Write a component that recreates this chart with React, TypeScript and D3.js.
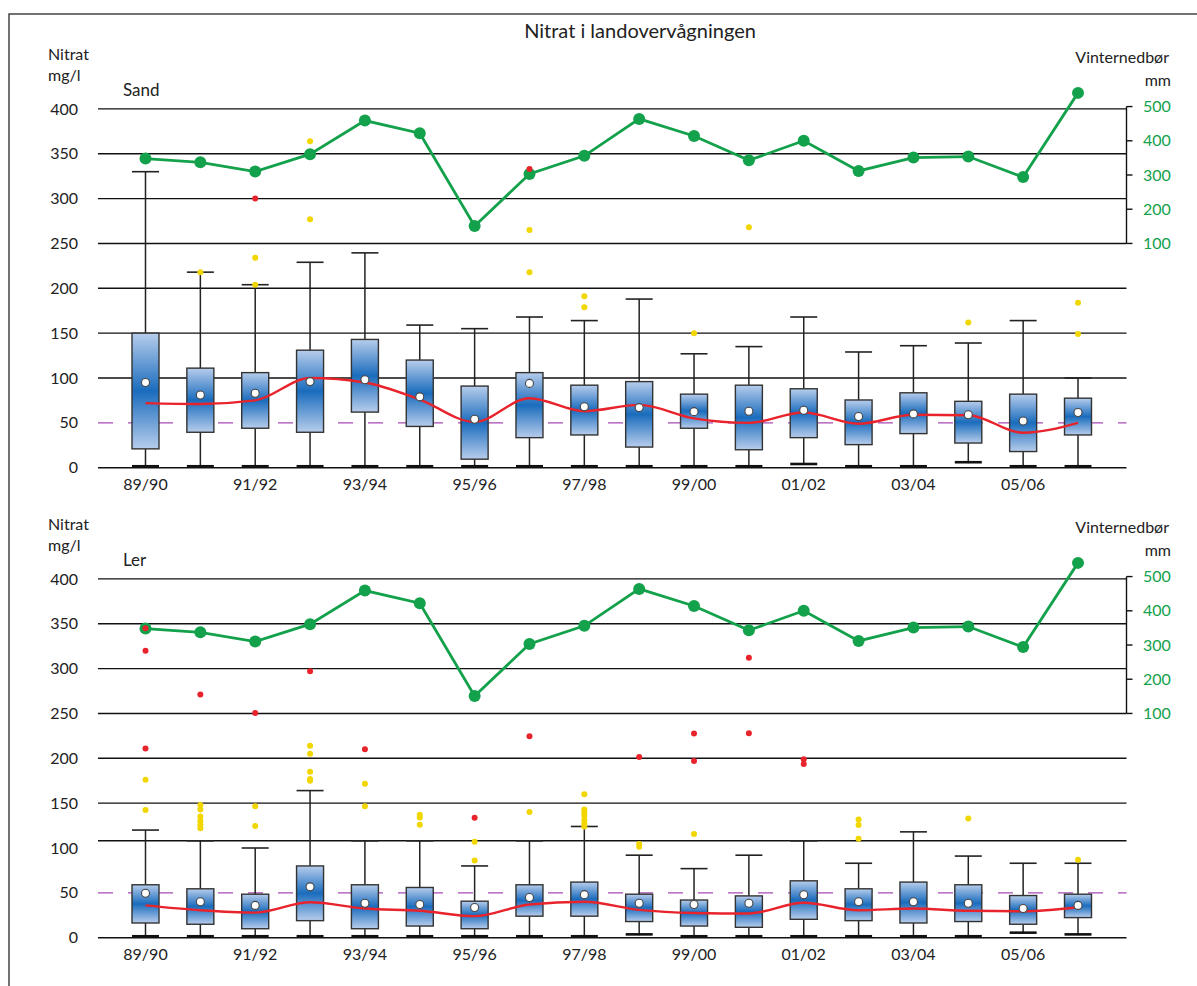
import React from "react";
import * as d3 from "d3";

// ---------- DATA ----------
const seasons = [
  "89/90", "90/91", "91/92", "92/93", "93/94", "94/95", "95/96", "96/97", "97/98",
  "98/99", "99/00", "00/01", "01/02", "02/03", "03/04", "04/05", "05/06", "06/07",
];
const labeledSeasons = ["89/90", "91/92", "93/94", "95/96", "97/98", "99/00", "01/02", "03/04", "05/06"];
const nitratTicks = [0, 50, 100, 150, 200, 250, 300, 350, 400];
const mmTicks = [100, 200, 300, 400, 500];
const limitValue = 50;

// winter precipitation (mm)
const precipMm = [348, 337, 310, 361, 459, 422, 151, 303, 356, 464, 414, 343, 400, 312, 351, 354, 294, 540];

// Sand
const sandQ3 = [150, 111, 106, 131, 143, 120, 91, 106, 92, 96, 82, 92, 88, 75.5, 83.5, 74, 82, 77.5];
const sandQ1 = [21, 39.5, 44, 39.5, 62, 46, 9.5, 33.5, 36.5, 23, 44, 20, 33.5, 25.7, 38, 27.5, 18, 36.5];
const sandHigh = [330, 218, 204, 229, 239.5, 159, 155, 168, 164, 188, 127, 135, 168, 129, 136, 139, 164, 100];
const sandLow = [0.5, 0.5, 0.5, 0.5, 0.5, 0.5, 0.5, 0.5, 0.5, 0.5, 0.5, 0.5, 3, 0.5, 0.5, 5, 0.5, 0.5];
const sandMean = [95, 81, 83, 96, 98, 79, 54, 94, 68, 67, 62.5, 63, 64, 57, 60, 59, 52, 61.5];
const sandMedian = [72, 71, 75, 100, 95, 76, 51, 77.5, 63, 70, 55, 50, 61.5, 49, 59, 58.5, 39, 50];
const sandYellow: [number, number][] = [
  [1, 218], [2, 234], [2, 204], [3, 364], [3, 277], [7, 218], [7, 265], [8, 191], [8, 179],
  [10, 150], [11, 268], [15, 162], [17, 184], [17, 149],
];
const sandRed: [number, number][] = [[2, 300], [7, 333]];
const sandGrid = [100, 150, 200, 250, 300, 350, 400];

// Ler
const lerQ3 = [59, 54.5, 48.5, 80, 59, 56, 40.7, 59, 62, 48.5, 42, 46.6, 63.4, 54.5, 62, 59, 47, 48.5];
const lerQ1 = [16.4, 15, 10, 19, 10, 13, 10, 24, 24, 18, 13, 11.6, 20.5, 19, 16.4, 18, 15, 22.4];
const lerHigh = [120, 108, 100, 164, 108, 108, 80, 108, 124, 92, 77, 92, 108, 83, 118, 91, 83, 83];
const lerLow = [0.5, 0.5, 0.5, 0.5, 0.5, 0.5, 0.5, 0.5, 0.5, 2.6, 0.5, 0.5, 0.5, 0.5, 0.5, 0.5, 4.5, 2.6];
const lerMean = [49.6, 40, 36, 56.7, 38.4, 37, 33.6, 44.8, 48, 38.4, 37, 38.4, 47.8, 40, 40, 38.4, 32.5, 36];
const lerMedian = [36, 30.6, 28, 39.5, 32.5, 30, 24, 37, 40, 31, 27.6, 27, 39, 30.6, 32.5, 30, 29.5, 34];
const lerYellow: [number, number][] = [
  [0, 176], [0, 142.5], [1, 148], [1, 143], [1, 135], [1, 130], [1, 126], [1, 122],
  [2, 146.6], [2, 124.6], [3, 214], [3, 205], [3, 185], [3, 177], [3, 175], [4, 171.6], [4, 146.6],
  [5, 137], [5, 134], [5, 126], [6, 107], [6, 86], [7, 140],
  [8, 160], [8, 143], [8, 139.6], [8, 136], [8, 131], [8, 127], [8, 124],
  [9, 104.5], [9, 101.5], [10, 115.7], [13, 131.7], [13, 125.7], [13, 110.4], [15, 133], [17, 87],
];
const lerRed: [number, number][] = [
  [0, 345], [0, 320], [0, 211], [1, 271], [2, 250.5], [3, 297], [4, 210], [6, 133.6], [7, 224.6],
  [9, 201.5], [10, 227.6], [10, 197], [11, 228], [11, 312], [12, 199], [12, 193.6],
];
const lerGrid = [108, 150, 200, 250, 300, 350, 400];

// ---------- STYLE ----------
const FONT = "Lato, 'Open Sans', sans-serif";
const GREEN = "#13a14b";
const RED = "#e8232b";
const YELLOW = "#f2d600";
const PURPLE = "#a64bb4";
const W = 1197;
const H = 986;

const x = d3.scalePoint<string>().domain(seasons).range([145.5, 1078]);
const gridLeft = 98;
const gridRight = 1126.5;
const boxW = 27;

type PanelProps = {
  y0: number;
  name: string;
  q3: number[];
  q1: number[];
  hi: number[];
  lo: number[];
  mean: number[];
  median: number[];
  yellow: [number, number][];
  red: [number, number][];
  grid: number[];
};

function Panel(p: PanelProps) {
  const y = d3.scaleLinear().domain([0, 400]).range([p.y0, p.y0 - 358.8]);
  const yMm = d3.scaleLinear().domain([100, 500]).range([y(250), y(402.6)]);
  const top = y(400);

  const medLine = d3
    .line<number>()
    .x((_, i) => x(seasons[i])!)
    .y((d) => y(d))
    .curve(d3.curveMonotoneX)(p.median)!;
  const precipLine = d3
    .line<number>()
    .x((_, i) => x(seasons[i])!)
    .y((d) => yMm(d))(precipMm)!;

  return (
    <g>
      {/* headings */}
      <text x={48} y={top - 49} fontSize={16} fontFamily={FONT} fill="#222">Nitrat</text>
      <text x={48} y={top - 28} fontSize={16} fontFamily={FONT} fill="#222">mg/l</text>
      <text x={123} y={top - 13} fontSize={17} fontFamily={FONT} fill="#222">{p.name}</text>
      <text x={1169} y={top - 46} fontSize={16} fontFamily={FONT} fill="#222" textAnchor="end">Vinternedbør</text>
      <text x={1171} y={top - 23} fontSize={16} fontFamily={FONT} fill="#222" textAnchor="end">mm</text>

      {/* y ticks */}
      {nitratTicks.map((t) => (
        <text key={t} x={78} y={y(t)} dy="0.35em" fontSize={16} fontFamily={FONT} fill="#222" textAnchor="end">
          {t}
        </text>
      ))}

      {/* gridlines */}
      {p.grid.map((g) => (
        <line key={g} x1={gridLeft} x2={gridRight} y1={y(g)} y2={y(g)} stroke="#111" strokeWidth={1.4} />
      ))}
      <line x1={gridLeft} x2={gridRight} y1={y(limitValue)} y2={y(limitValue)} stroke={PURPLE} strokeWidth={1.4} strokeDasharray="15 15" />

      {/* right axis */}
      <line x1={gridRight} x2={gridRight} y1={yMm(500)} y2={yMm(100)} stroke="#111" strokeWidth={1.4} />
      {mmTicks.map((t) => (
        <g key={t}>
          <line x1={gridRight} x2={gridRight + 6} y1={yMm(t)} y2={yMm(t)} stroke="#111" strokeWidth={1.4} />
          <text x={1143} y={yMm(t)} dy="0.35em" fontSize={16} fontFamily={FONT} fill={GREEN}>{t}</text>
        </g>
      ))}

      {/* boxes */}
      {seasons.map((s, i) => {
        const cx = x(s)!;
        return (
          <g key={s}>
            <line x1={cx} x2={cx} y1={y(p.hi[i])} y2={y(p.lo[i])} stroke="#222" strokeWidth={1.5} />
            <line x1={cx - boxW / 2} x2={cx + boxW / 2} y1={y(p.hi[i])} y2={y(p.hi[i])} stroke="#222" strokeWidth={1.6} />
            <line x1={cx - boxW / 2} x2={cx + boxW / 2} y1={y(p.lo[i]) - 1} y2={y(p.lo[i]) - 1} stroke="#111" strokeWidth={2.6} />
            <rect x={cx - boxW / 2} y={y(p.q3[i])} width={boxW} height={y(p.q1[i]) - y(p.q3[i])} fill="url(#boxGrad)" stroke="#333" strokeWidth={1.4} />
          </g>
        );
      })}

      {/* zero axis */}
      <line x1={gridLeft} x2={gridRight} y1={y(0)} y2={y(0)} stroke="#111" strokeWidth={1.6} />

      {/* median line */}
      <path d={medLine} fill="none" stroke={RED} strokeWidth={2.4} />

      {/* means */}
      {p.mean.map((m, i) => (
        <circle key={"m" + i} cx={x(seasons[i])!} cy={y(m)} r={4} fill="#fff" stroke="#444" strokeWidth={1.1} />
      ))}

      {/* precipitation */}
      <path d={precipLine} fill="none" stroke={GREEN} strokeWidth={2.8} />
      {precipMm.map((v, i) => (
        <circle key={"p" + i} cx={x(seasons[i])!} cy={yMm(v)} r={6} fill={GREEN} />
      ))}

      {/* outliers */}
      {p.yellow.map(([i, v], k) => (
        <circle key={"y" + k} cx={x(seasons[i])!} cy={y(v)} r={3} fill={YELLOW} />
      ))}
      {p.red.map(([i, v], k) => (
        <circle key={"r" + k} cx={x(seasons[i])!} cy={y(v)} r={3} fill={RED} />
      ))}

      {/* x labels */}
      {labeledSeasons.map((s) => (
        <text key={s} x={x(s)!} y={p.y0 + 22} fontSize={16} fontFamily={FONT} fill="#222" textAnchor="middle">
          {s}
        </text>
      ))}
    </g>
  );
}

export default function App() {
  return (
    <svg
      width={W}
      height={H}
      style={{ position: "absolute", left: 0, top: 0, background: "#fff" }}
    >
      <defs>
        <linearGradient id="boxGrad" x1="0" y1="0" x2="0" y2="1">
          <stop offset="0%" stopColor="#b7cdec" />
          <stop offset="50%" stopColor="#1a6cbd" />
          <stop offset="100%" stopColor="#b7cdec" />
        </linearGradient>
      </defs>
      <rect x={9} y={14} width={1300} height={1100} fill="#fff" stroke="#444" strokeWidth={1.5} />
      <text x={640} y={38} fontSize={20} fontFamily={FONT} fill="#222" textAnchor="middle">
        Nitrat i landovervågningen
      </text>
      <Panel y0={467.7} name="Sand" q3={sandQ3} q1={sandQ1} hi={sandHigh} lo={sandLow} mean={sandMean} median={sandMedian} yellow={sandYellow} red={sandRed} grid={sandGrid} />
      <Panel y0={937.7} name="Ler" q3={lerQ3} q1={lerQ1} hi={lerHigh} lo={lerLow} mean={lerMean} median={lerMedian} yellow={lerYellow} red={lerRed} grid={lerGrid} />
    </svg>
  );
}
